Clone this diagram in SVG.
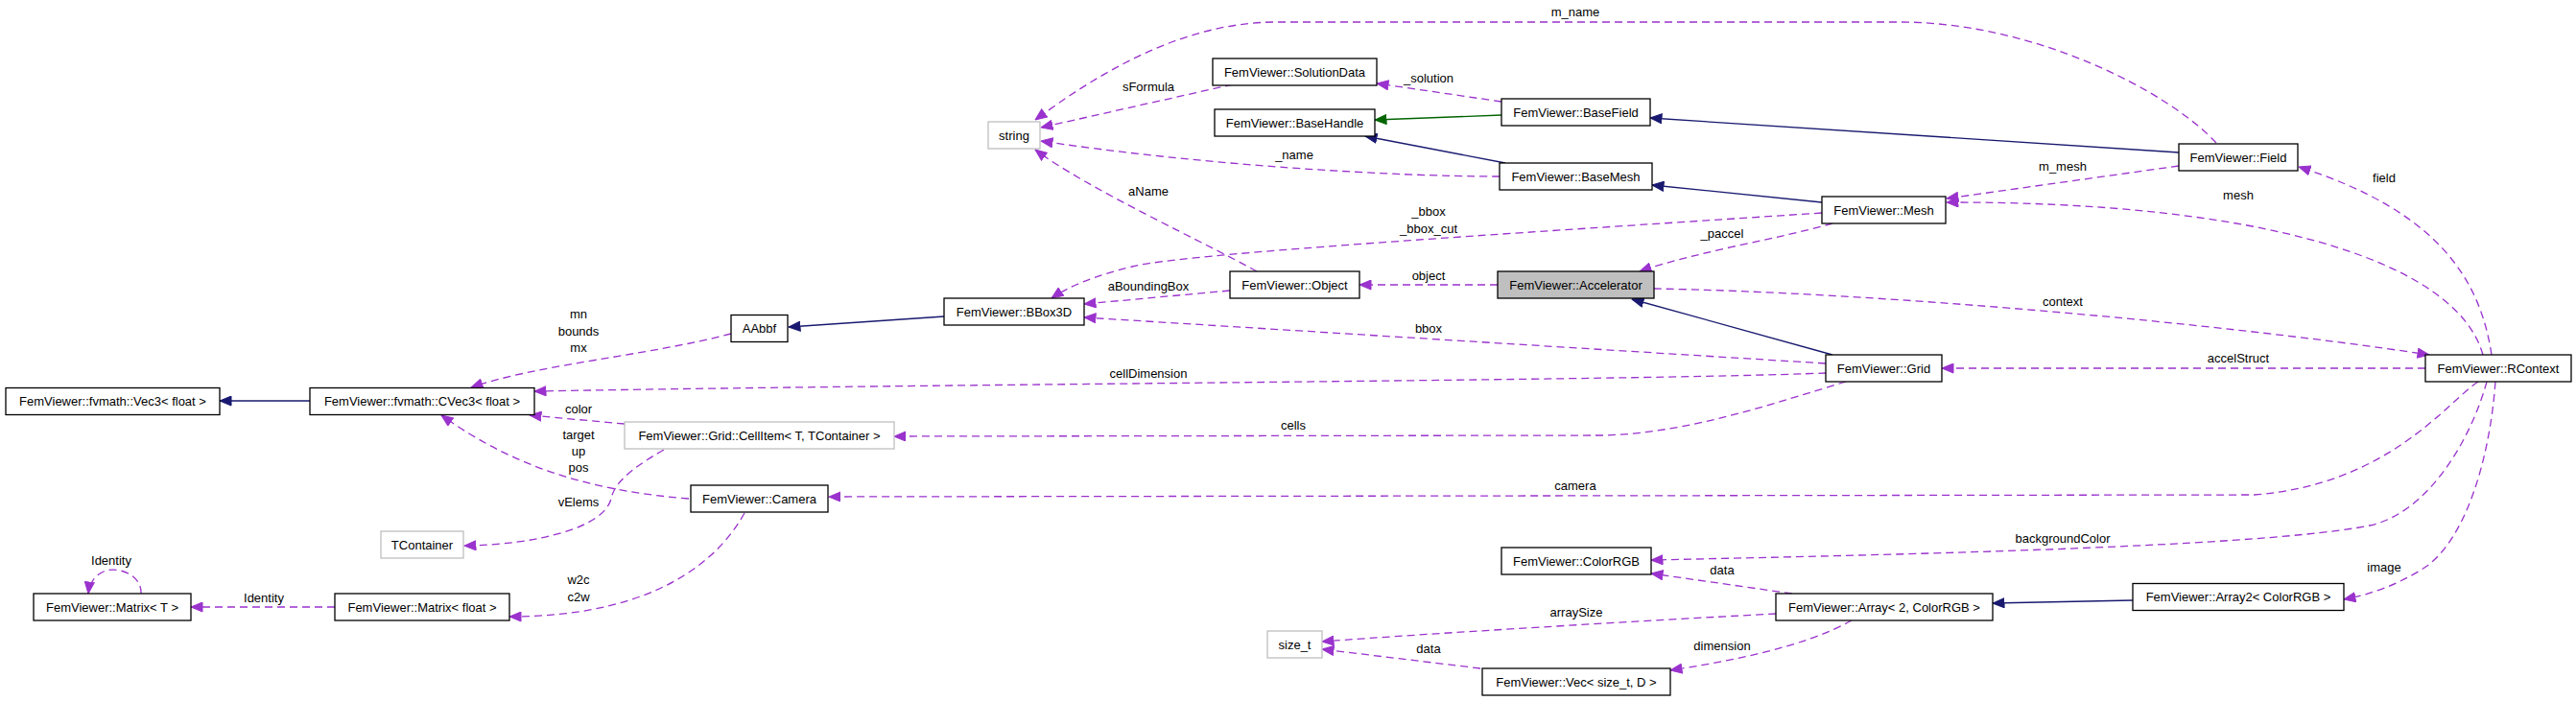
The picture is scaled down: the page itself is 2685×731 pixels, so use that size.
<svg xmlns="http://www.w3.org/2000/svg" width="2685" height="731" viewBox="0 0 2685 731">
<style>
  .n rect { fill: #ffffff; stroke: #000000; stroke-width: 1.3; }
  .n.g rect { stroke: #bfbfbf; }
  .n.hl rect { fill: #bfbfbf; }
  text { font-family: "Liberation Sans", Arial, sans-serif; font-size: 13px; fill: #000000; text-anchor: middle; }
  .e { fill: none; stroke-width: 1.3; }
  .d { stroke: #9a32cd; stroke-dasharray: 8,5; marker-end: url(#ap); }
  .b { stroke: #191970; marker-end: url(#ab); }
  .gr { stroke: #006400; marker-end: url(#ag); }
</style>
<defs>
  <marker id="ap" markerUnits="userSpaceOnUse" markerWidth="13" markerHeight="11" viewBox="0 0 13 11" refX="12.5" refY="5.5" orient="auto">
    <path d="M0.5,0.5 L12.5,5.5 L0.5,10.5 z" fill="#9a32cd" stroke="#9a32cd" stroke-width="1"/>
  </marker>
  <marker id="ab" markerUnits="userSpaceOnUse" markerWidth="13" markerHeight="11" viewBox="0 0 13 11" refX="12.5" refY="5.5" orient="auto">
    <path d="M0.5,0.5 L12.5,5.5 L0.5,10.5 z" fill="#191970" stroke="#191970" stroke-width="1"/>
  </marker>
  <marker id="ag" markerUnits="userSpaceOnUse" markerWidth="13" markerHeight="11" viewBox="0 0 13 11" refX="12.5" refY="5.5" orient="auto">
    <path d="M0.5,0.5 L12.5,5.5 L0.5,10.5 z" fill="#006400" stroke="#006400" stroke-width="1"/>
  </marker>
</defs>
<rect x="0" y="0" width="2685" height="731" fill="#ffffff"/>

<g id="connectors">
  <path class="e d" d="M2310,149 C2260,95 2120,23 1980,23 L1330,23 C1230,23 1140,80 1079,125"/>
  <path class="e d" d="M1285,88 L1085,133"/>
  <path class="e d" d="M1565,106 L1435,87"/>
  <path class="e gr" d="M1565,120 L1433,125"/>
  <path class="e b" d="M2271,159 L1720,123"/>
  <path class="e b" d="M1569,170 L1423,142"/>
  <path class="e d" d="M1563,184 C1450,184 1250,172 1085,147"/>
  <path class="e b" d="M1899,211 L1722,193"/>
  <path class="e d" d="M2271,173 L2029,207"/>
  <path class="e d" d="M1310,283 C1260,255 1130,195 1079,156"/>
  <path class="e d" d="M1899,222 C1550,245 1230,265 1180,278 C1140,288 1115,298 1096,311"/>
  <path class="e d" d="M1910,233 C1850,250 1770,262 1709,283"/>
  <path class="e d" d="M1561,297 L1417,297"/>
  <path class="e d" d="M1282,303 L1130,317"/>
  <path class="e b" d="M1910,370 L1701,312"/>
  <path class="e d" d="M1903,379 L1130,331"/>
  <path class="e d" d="M1724,301 C1950,305 2300,335 2532,370"/>
  <path class="e d" d="M2597,370 C2585,290 2540,220 2396,174"/>
  <path class="e d" d="M2588,370 C2560,270 2350,210 2029,211"/>
  <path class="e d" d="M762,348 C680,370 560,380 491,404"/>
  <path class="e b" d="M984,330 L822,341"/>
  <path class="e b" d="M323,418 L229,418"/>
  <path class="e d" d="M1903,389 C1700,397 1000,400 557,408"/>
  <path class="e d" d="M2528,384 L2024,384"/>
  <path class="e d" d="M1924,398 C1850,420 1760,452 1670,454 L932,455"/>
  <path class="e d" d="M651,442 L552,433"/>
  <path class="e d" d="M718,520 C620,512 540,490 460,433"/>
  <path class="e d" d="M692,469 C655,490 640,505 637,520 C630,550 560,568 484,569"/>
  <path class="e d" d="M2583,398 C2550,420 2490,505 2350,516 L864,518"/>
  <path class="e d" d="M776,535 C740,600 660,643 531,643"/>
  <path class="e d" d="M349,633 L199,633"/>
  <path class="e d" d="M147,619 C148,598 120,590 108,596 C97,601 93,610 92,619"/>
  <path class="e d" d="M2592,398 C2575,460 2530,535 2470,548 C2360,570 2000,578 1721,584"/>
  <path class="e d" d="M2601,398 C2595,480 2570,560 2530,590 C2500,610 2470,620 2443,625"/>
  <path class="e b" d="M2223,626 L2077,629"/>
  <path class="e d" d="M1868,619 L1721,598"/>
  <path class="e d" d="M1851,640 C1700,648 1500,660 1378,669"/>
  <path class="e d" d="M1930,647 C1880,675 1800,690 1741,699"/>
  <path class="e d" d="M1543,697 L1378,677"/>

  <text x="1642" y="17">m_name</text>
  <text x="1197" y="95">sFormula</text>
  <text x="1489" y="86">_solution</text>
  <text x="1349" y="166">_name</text>
  <text x="1197" y="204">aName</text>
  <text x="1489" y="225">_bbox</text>
  <text x="1489" y="243">_bbox_cut</text>
  <text x="1795" y="248">_paccel</text>
  <text x="1489" y="292">object</text>
  <text x="1197" y="303">aBoundingBox</text>
  <text x="1489" y="347">bbox</text>
  <text x="2150" y="178">m_mesh</text>
  <text x="2485" y="190">field</text>
  <text x="2333" y="208">mesh</text>
  <text x="2150" y="319">context</text>
  <text x="603" y="332">mn</text>
  <text x="603" y="350">bounds</text>
  <text x="603" y="367">mx</text>
  <text x="1197" y="394">cellDimension</text>
  <text x="2333" y="378">accelStruct</text>
  <text x="1348" y="448">cells</text>
  <text x="603" y="431">color</text>
  <text x="603" y="458">target</text>
  <text x="603" y="475">up</text>
  <text x="603" y="492">pos</text>
  <text x="603" y="528">vElems</text>
  <text x="1642" y="511">camera</text>
  <text x="603" y="609">w2c</text>
  <text x="603" y="627">c2w</text>
  <text x="275" y="628">Identity</text>
  <text x="116" y="589">Identity</text>
  <text x="2150" y="566">backgroundColor</text>
  <text x="2485" y="596">image</text>
  <text x="1795" y="599">data</text>
  <text x="1643" y="643">arraySize</text>
  <text x="1795" y="678">dimension</text>
  <text x="1489" y="681">data</text>
</g>

<g id="n_solutiondata" class="n"><rect x="1264" y="61" width="171" height="28"/><text x="1349.5" y="79.5">FemViewer::SolutionData</text></g>
<g id="n_string" class="n g"><rect x="1030" y="127" width="54" height="28"/><text x="1057" y="145.5">string</text></g>
<g id="n_basehandle" class="n"><rect x="1266" y="114" width="167" height="28"/><text x="1349.5" y="132.5">FemViewer::BaseHandle</text></g>
<g id="n_basefield" class="n"><rect x="1565" y="103" width="155" height="28"/><text x="1642.5" y="121.5">FemViewer::BaseField</text></g>
<g id="n_basemesh" class="n"><rect x="1563" y="170" width="159" height="28"/><text x="1642.5" y="188.5">FemViewer::BaseMesh</text></g>
<g id="n_object" class="n"><rect x="1282" y="283" width="135" height="28"/><text x="1349.5" y="301.5">FemViewer::Object</text></g>
<g id="n_accelerator" class="n hl"><rect x="1561" y="283" width="163" height="28"/><text x="1642.5" y="301.5">FemViewer::Accelerator</text></g>
<g id="n_bbox3d" class="n"><rect x="984" y="311" width="146" height="28"/><text x="1057" y="329.5">FemViewer::BBox3D</text></g>
<g id="n_aabbf" class="n"><rect x="762" y="328.5" width="59" height="28"/><text x="791.5" y="347">AAbbf</text></g>
<g id="n_field" class="n"><rect x="2271" y="150" width="124" height="28"/><text x="2333" y="168.5">FemViewer::Field</text></g>
<g id="n_mesh" class="n"><rect x="1899" y="205" width="129" height="28"/><text x="1963.5" y="223.5">FemViewer::Mesh</text></g>
<g id="n_grid" class="n"><rect x="1903" y="370" width="121" height="28"/><text x="1963.5" y="388.5">FemViewer::Grid</text></g>
<g id="n_rcontext" class="n"><rect x="2528" y="370" width="152" height="28"/><text x="2604" y="388.5">FemViewer::RContext</text></g>
<g id="n_array" class="n"><rect x="1851" y="619" width="226" height="28"/><text x="1964" y="637.5">FemViewer::Array&lt; 2, ColorRGB &gt;</text></g>
<g id="n_array2" class="n"><rect x="2223" y="608.5" width="220" height="28"/><text x="2333" y="627">FemViewer::Array2&lt; ColorRGB &gt;</text></g>
<g id="n_vec3" class="n"><rect x="6" y="404.5" width="223" height="28"/><text x="117.5" y="423">FemViewer::fvmath::Vec3&lt; float &gt;</text></g>
<g id="n_cvec3" class="n"><rect x="323" y="404.5" width="234" height="28"/><text x="440" y="423">FemViewer::fvmath::CVec3&lt; float &gt;</text></g>
<g id="n_cellitem" class="n g"><rect x="651" y="440" width="281" height="28"/><text x="791.5" y="458.5">FemViewer::Grid::CellItem&lt; T, TContainer &gt;</text></g>
<g id="n_camera" class="n"><rect x="720" y="506" width="143" height="28"/><text x="791.5" y="524.5">FemViewer::Camera</text></g>
<g id="n_tcontainer" class="n g"><rect x="397" y="554" width="86" height="28"/><text x="440" y="572.5">TContainer</text></g>
<g id="n_matrix_t" class="n"><rect x="35" y="619" width="164" height="28"/><text x="117" y="637.5">FemViewer::Matrix&lt; T &gt;</text></g>
<g id="n_matrix_float" class="n"><rect x="349" y="619" width="182" height="28"/><text x="440" y="637.5">FemViewer::Matrix&lt; float &gt;</text></g>
<g id="n_colorrgb" class="n"><rect x="1565" y="571" width="156" height="28"/><text x="1643" y="589.5">FemViewer::ColorRGB</text></g>
<g id="n_size_t" class="n g"><rect x="1321" y="658" width="57" height="28"/><text x="1349.5" y="676.5">size_t</text></g>
<g id="n_vec" class="n"><rect x="1545" y="697" width="196" height="28"/><text x="1643" y="715.5">FemViewer::Vec&lt; size_t, D &gt;</text></g>
</svg>
